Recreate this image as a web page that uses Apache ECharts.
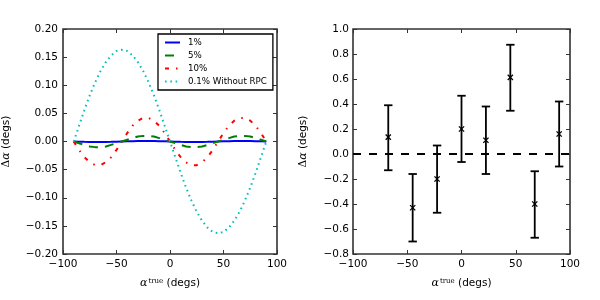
<!DOCTYPE html>
<html>
<head>
<meta charset="utf-8">
<script src="https://cdn.jsdelivr.net/npm/echarts@6/dist/echarts.min.js"></script>
<style>
html,body{margin:0;padding:0;background:#fff;}
#chart{width:600px;height:300px;}
</style>
</head>
<body>
<div id="chart"></div>
<script>
// ---- Left panel data ----
const alphaTrue = [-90,-85,-80,-75,-70,-65,-60,-55,-50,-45,-40,-35,-30,-25,-20,-15,-10,-5,0,5,10,15,20,25,30,35,40,45,50,55,60,65,70,75,80,85,90];
const err1 = [0,-0.0003,-0.0006,-0.0008,-0.0009,-0.0009,-0.0008,-0.0006,-0.0003,0,0.0003,0.0006,0.0008,0.0009,0.0009,0.0008,0.0006,0.0003,0,-0.0003,-0.0006,-0.0008,-0.0009,-0.0009,-0.0008,-0.0006,-0.0003,0,0.0003,0.0006,0.0008,0.0009,0.0009,0.0008,0.0006,0.0003,0];
const err5 = [0,-0.003,-0.006,-0.009,-0.010,-0.010,-0.009,-0.006,-0.003,0,0.003,0.006,0.009,0.010,0.010,0.009,0.006,0.003,0,-0.003,-0.006,-0.009,-0.010,-0.010,-0.009,-0.006,-0.003,0,0.003,0.006,0.009,0.010,0.010,0.009,0.006,0.003,0];
const err10 = [0,-0.015,-0.028,-0.037,-0.042,-0.042,-0.037,-0.028,-0.015,0,0.015,0.028,0.037,0.042,0.042,0.037,0.028,0.015,0,-0.015,-0.028,-0.037,-0.042,-0.042,-0.037,-0.028,-0.015,0,0.015,0.028,0.037,0.042,0.042,0.037,0.028,0.015,0];
const errNoRPC = [0,0.028,0.056,0.082,0.105,0.125,0.141,0.153,0.161,0.163,0.161,0.153,0.141,0.125,0.105,0.082,0.056,0.028,0,-0.028,-0.056,-0.082,-0.105,-0.125,-0.141,-0.153,-0.161,-0.163,-0.161,-0.153,-0.141,-0.125,-0.105,-0.082,-0.056,-0.028,0];
const seriesNames = ['1%','5%','10%','0.1% Without RPC'];

// ---- Right panel data ----
const ebX = [-67.5,-45,-22.5,0,22.5,45,67.5,90];
const ebY = [0.135,-0.43,-0.20,0.20,0.11,0.613,-0.40,0.16];
const ebLo = [-0.13,-0.70,-0.47,-0.064,-0.16,0.346,-0.67,-0.10];
const ebHi = [0.39,-0.16,0.068,0.466,0.38,0.874,-0.138,0.42];
const refX = [-100,100];
const refY = [0,0];

// ---- tick labels ----
const xTicks = [-100,-50,0,50,100];
const leftYTicks = [-0.20,-0.15,-0.10,-0.05,0.00,0.05,0.10,0.15,0.20];
const rightYTicks = [-0.8,-0.6,-0.4,-0.2,0.0,0.2,0.4,0.6,0.8,1.0];

const FONT = 'DejaVu Sans';
const minus = s => s.replace('-', '\u2212');
const fmt = d => v => (Math.abs(v) < 1e-9 ? (0).toFixed(d) : minus(v.toFixed(d)));

const zip = (a, b) => a.map((v, i) => [v, b[i]]);
const ebData = ebX.map((x, i) => [x, ebY[i], ebLo[i], ebHi[i]]);

const tickStyle = {show: true, inside: true, length: 4, lineStyle: {color: '#333', width: 1}};
const labelStyle = {fontFamily: FONT, fontSize: 10.5, color: '#000'};
const noLine = {show: false, onZero: false};

const nameRichX = {
  m: {fontFamily: 'DejaVu Serif', fontStyle: 'italic', fontSize: 11, color: '#000'},
  s: {fontFamily: 'DejaVu Serif', fontSize: 7, color: '#000', verticalAlign: 'top', padding: [0,0,0,1]},
  n: {fontFamily: FONT, fontSize: 10.5, color: '#000'}
};
const nameRichY = {
  d: {fontFamily: 'DejaVu Serif', fontSize: 10.5, color: '#000'},
  m: {fontFamily: 'DejaVu Serif', fontStyle: 'italic', fontSize: 11, color: '#000'},
  n: {fontFamily: FONT, fontSize: 10.5, color: '#000'}
};

function xAxisMain(g) {
  return {
    type: 'value', gridIndex: g, min: xTicks[0], max: xTicks[xTicks.length-1], interval: 50,
    position: 'bottom',
    axisLine: noLine, splitLine: {show: false}, axisTick: tickStyle,
    axisLabel: Object.assign({margin: 5, formatter: fmt(0)}, labelStyle),
    name: '{m|α}{s|true}{n| (degs)}', nameLocation: 'middle', nameGap: 24,
    nameTextStyle: {rich: nameRichX}
  };
}
function xAxisTop(g) {
  return {
    type: 'value', gridIndex: g, min: xTicks[0], max: xTicks[xTicks.length-1], interval: 50,
    position: 'top', axisLine: noLine, splitLine: {show: false}, axisTick: tickStyle,
    axisLabel: {show: false}
  };
}
function yAxisMain(g, ticks, step, dec, gap, margin) {
  return {
    type: 'value', gridIndex: g, min: ticks[0], max: ticks[ticks.length-1], interval: step,
    position: 'left', axisLine: noLine, splitLine: {show: false}, axisTick: tickStyle,
    axisLabel: Object.assign({margin: margin, formatter: fmt(dec)}, labelStyle),
    name: '{d|Δ}{m|α}{n| (degs)}', nameLocation: 'middle', nameGap: gap,
    nameTextStyle: {rich: nameRichY}
  };
}
function yAxisRight(g, ticks, step) {
  return {
    type: 'value', gridIndex: g, min: ticks[0], max: ticks[ticks.length-1], interval: step,
    position: 'right', axisLine: noLine, splitLine: {show: false}, axisTick: tickStyle,
    axisLabel: {show: false}
  };
}

const lineColors = ['#0000ff', '#008000', '#ff0000', '#00bfbf'];
const lineTypes = ['solid', [9, 7], [4, 7, 1.5, 7], [1.6, 3.7]];
const lineData = [err1, err5, err10, errNoRPC];

const lineSeries = seriesNames.map((n, i) => ({
  name: n, type: 'line', xAxisIndex: 0, yAxisIndex: 0,
  data: zip(alphaTrue, lineData[i]), showSymbol: false, symbol: 'none', smooth: false,
  lineStyle: {color: lineColors[i], width: 2, type: lineTypes[i], cap: 'butt'},
  itemStyle: {color: lineColors[i]},
  z: 3 + i, animation: false
}));

const option = {
  animation: false,
  backgroundColor: '#fff',
  grid: [
    {left: 60, top: 29, width: 217, height: 225, show: true, borderColor: '#333', borderWidth: 1.6, backgroundColor: 'transparent'},
    {left: 353, top: 29, width: 217, height: 225, show: true, borderColor: '#333', borderWidth: 1.6, backgroundColor: 'transparent'}
  ],
  xAxis: [xAxisMain(0), xAxisTop(0), xAxisMain(1), xAxisTop(1)],
  yAxis: [
    yAxisMain(0, leftYTicks, 0.05, 2, 51, 5),
    yAxisRight(0, leftYTicks, 0.05),
    yAxisMain(1, rightYTicks, 0.2, 1, 44, 4),
    yAxisRight(1, rightYTicks, 0.2)
  ],
  legend: {
    data: seriesNames, orient: 'vertical', left: 158, top: 34,
    padding: [4, 6, 4, 6], itemWidth: 15, itemHeight: 10, itemGap: 4,
    borderColor: '#000', borderWidth: 1.3, borderRadius: 0, backgroundColor: '#fff',
    itemStyle: {opacity: 0},
    textStyle: {fontFamily: FONT, fontSize: 8.7, color: '#000', padding: [0, 0, 0, 3]},
    selectedMode: false, z: 10
  },
  series: lineSeries.concat([
    {
      name: 'ref', type: 'line', xAxisIndex: 2, yAxisIndex: 2,
      data: zip(refX, refY), showSymbol: false, symbol: 'none',
      lineStyle: {color: '#000', width: 2, type: [8, 8]}, z: 2
    },
    {
      name: 'obs', type: 'custom', xAxisIndex: 2, yAxisIndex: 2,
      encode: {x: 0, y: [1, 2, 3]},
      data: ebData, z: 5,
      renderItem: function (params, api) {
        const x = api.value(0), y = api.value(1), lo = api.value(2), hi = api.value(3);
        const pL = api.coord([x, lo]), pH = api.coord([x, hi]), p = api.coord([x, y]);
        const cw = 4.2, m = 2.6;
        const st = {stroke: '#000', lineWidth: 1.8};
        return {
          type: 'group',
          children: [
            {type: 'line', shape: {x1: pL[0], y1: pL[1], x2: pH[0], y2: pH[1]}, style: st},
            {type: 'line', shape: {x1: pL[0]-cw, y1: pL[1], x2: pL[0]+cw, y2: pL[1]}, style: st},
            {type: 'line', shape: {x1: pH[0]-cw, y1: pH[1], x2: pH[0]+cw, y2: pH[1]}, style: st},
            {type: 'line', shape: {x1: p[0]-m, y1: p[1]-m, x2: p[0]+m, y2: p[1]+m}, style: {stroke: '#000', lineWidth: 1.3}},
            {type: 'line', shape: {x1: p[0]-m, y1: p[1]+m, x2: p[0]+m, y2: p[1]-m}, style: {stroke: '#000', lineWidth: 1.3}}
          ]
        };
      }
    }
  ])
};

const chart = echarts.init(document.getElementById('chart'), null, {renderer: 'canvas'});
chart.setOption(option);
</script>
</body>
</html>
